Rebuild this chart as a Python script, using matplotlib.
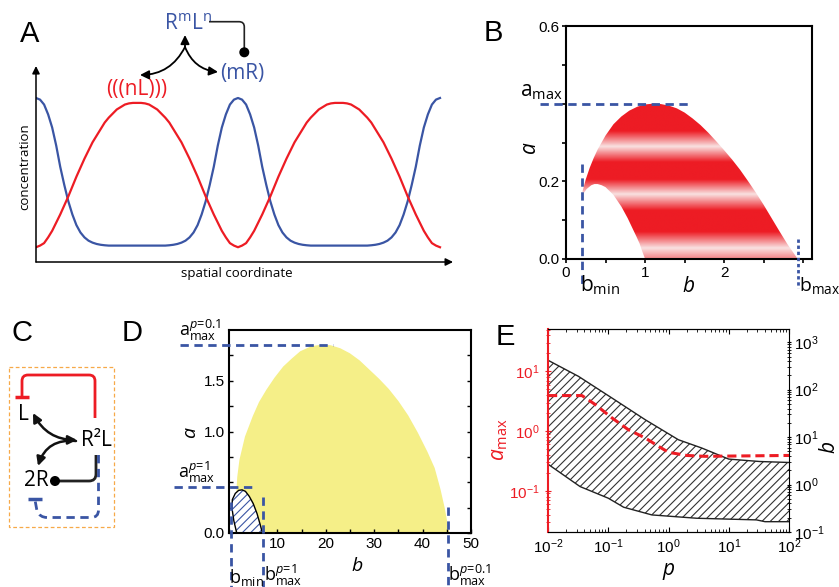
import matplotlib
matplotlib.use("Agg")
import matplotlib.pyplot as plt
import numpy as np
from matplotlib.patches import Polygon, FancyArrowPatch, Circle, Rectangle, PathPatch
from matplotlib.path import Path

plt.rcParams['font.family'] = ['Liberation Sans', 'DejaVu Sans']
plt.rcParams['mathtext.fontset'] = 'custom'
plt.rcParams['mathtext.rm'] = 'Open Sans'
plt.rcParams['mathtext.it'] = 'Open Sans:italic'
plt.rcParams['hatch.linewidth'] = 0.8

W, H = 839, 587
RED = '#ED1C24'
BLUE = '#3A55A4'
YELLOW = '#F5EF88'
PALE = '#F9E1E1'

# --- A: concentration profiles along space (x in % of the domain)
x_space = list(range(0, 101))
conc_R = [1.00, 0.99, 0.96, 0.90, 0.82, 0.71, 0.58, 0.47, 0.37, 0.29, 0.225, 0.18, 0.15, 0.13, 0.118, 0.11, 0.105, 0.102, 0.10, 0.10, 0.10, 0.10, 0.10, 0.10, 0.10, 0.10,
          0.10, 0.10, 0.10, 0.10, 0.10, 0.10, 0.10, 0.102, 0.105, 0.11, 0.118, 0.13, 0.15, 0.18, 0.225, 0.29, 0.37, 0.47, 0.58, 0.71, 0.82, 0.90, 0.96, 0.99,
          1.00, 0.99, 0.96, 0.90, 0.82, 0.71, 0.58, 0.47, 0.37, 0.29, 0.225, 0.18, 0.15, 0.13, 0.118, 0.11, 0.105, 0.102, 0.10, 0.10, 0.10, 0.10, 0.10, 0.10, 0.10, 0.10,
          0.10, 0.10, 0.10, 0.10, 0.10, 0.10, 0.10, 0.102, 0.105, 0.11, 0.118, 0.13, 0.15, 0.18, 0.225, 0.29, 0.37, 0.47, 0.58, 0.71, 0.82, 0.90, 0.96, 0.99,
          1.00]
conc_L = [0.09, 0.10, 0.115, 0.15, 0.19, 0.24, 0.29, 0.345, 0.40, 0.46, 0.52, 0.575, 0.63, 0.68, 0.73, 0.77, 0.81, 0.85, 0.88, 0.905, 0.93, 0.945, 0.96, 0.967, 0.97, 0.97,
          0.97, 0.967, 0.96, 0.945, 0.93, 0.905, 0.88, 0.85, 0.81, 0.77, 0.73, 0.68, 0.63, 0.575, 0.52, 0.46, 0.40, 0.345, 0.29, 0.24, 0.19, 0.15, 0.115, 0.10, 0.09,
          0.10, 0.115, 0.15, 0.19, 0.24, 0.29, 0.345, 0.40, 0.46, 0.52, 0.575, 0.63, 0.68, 0.73, 0.77, 0.81, 0.85, 0.88, 0.905, 0.93, 0.945, 0.96, 0.967, 0.97, 0.97,
          0.97, 0.967, 0.96, 0.945, 0.93, 0.905, 0.88, 0.85, 0.81, 0.77, 0.73, 0.68, 0.63, 0.575, 0.52, 0.46, 0.40, 0.345, 0.29, 0.24, 0.19, 0.15, 0.115, 0.10, 0.09]

# --- B: Turing region (outer and inner boundary)
b_outer = [0.21, 0.25, 0.3, 0.35, 0.4, 0.5, 0.6, 0.7, 0.8, 0.9, 1.0, 1.1, 1.2, 1.3, 1.4, 1.5, 1.6, 1.7, 1.8,
           1.9, 2.0, 2.1, 2.2, 2.3, 2.4, 2.5, 2.6, 2.7, 2.8, 2.93]
a_outer = [0.175, 0.205, 0.235, 0.26, 0.282, 0.318, 0.347, 0.367, 0.382, 0.392, 0.398, 0.40, 0.399, 0.395, 0.388,
           0.377, 0.362, 0.345, 0.325, 0.303, 0.28, 0.256, 0.23, 0.201, 0.171, 0.139, 0.105, 0.071, 0.038, 0.0]
b_inner = [1.0, 0.96, 0.93, 0.89, 0.85, 0.78, 0.7, 0.6, 0.5, 0.45, 0.4, 0.36, 0.32, 0.26, 0.21]
a_inner = [0.0, 0.022, 0.04, 0.058, 0.075, 0.105, 0.135, 0.165, 0.185, 0.19, 0.193, 0.193, 0.19, 0.18, 0.165]
stripe_a = [-0.01, 0.028, 0.07, 0.125, 0.167, 0.205, 0.25, 0.29, 0.33, 0.6]
stripe_w = [0.35, 1.0, 0.0, 0.0, 1.0, 0.0, 0.0, 1.0, 0.0, 0.0]

# --- D: region for p=0.1 (yellow) and p=1 (hatched)
b_p01 = [1.3, 1.4, 1.7, 2.15, 3.3, 4.9, 6.2, 7.7, 9.4, 11.2, 13, 14.7, 17, 19, 21, 23, 25, 27, 29, 31,
         33, 35, 37, 39, 41, 42.5, 43.7, 44.6, 45.2, 45.5]
a_p01 = [0.0, 0.3, 0.55, 0.72, 0.95, 1.15, 1.29, 1.41, 1.53, 1.64, 1.72, 1.79, 1.84, 1.855, 1.85, 1.82, 1.77, 1.7, 1.61, 1.52,
         1.42, 1.3, 1.16, 0.99, 0.8, 0.64, 0.43, 0.24, 0.08, 0.0]
b_p1 = [1.6, 1.0, 0.6, 0.7, 1.3, 2.0, 2.7, 3.4, 4.2, 5.0, 5.8, 6.4, 6.9]
a_p1 = [0.0, 0.12, 0.25, 0.33, 0.39, 0.42, 0.425, 0.41, 0.36, 0.29, 0.19, 0.09, 0.0]

# --- E: b range and a_max against p
p_up = [0.01, 0.032, 0.115, 0.41, 1.46, 3.55, 10, 32.7, 100]
b_up = [417, 191, 66.8, 23.3, 8.8, 5.9, 3.44, 3.06, 2.92]
p_low = [0.01, 0.034, 0.1, 0.18, 0.53, 2.93, 28.8, 40, 100]
b_low = [2.69, 0.908, 0.516, 0.333, 0.229, 0.195, 0.18, 0.165, 0.165]
p_amax = [0.01, 0.0366, 0.061, 0.115, 0.216, 0.41, 0.68, 1.0, 2.0, 4.0, 100]
a_max = [3.92, 3.92, 2.77, 1.66, 1.05, 0.766, 0.555, 0.44, 0.39, 0.377, 0.39]

fig = plt.figure(figsize=(W / 100, H / 100), dpi=100)


def px_axes(x0, y0, x1, y1):
    return fig.add_axes([x0 / W, 1 - y1 / H, (x1 - x0) / W, (y1 - y0) / H])


def guide(ax, xs, ys, dash=(3, 2)):
    ax.plot(xs, ys, color=BLUE, lw=2, dashes=dash, clip_on=False, zorder=5)


# ---------------- panel A
ax_a = px_axes(36, 66, 456, 262)
ax_a.plot(x_space, conc_R, color=BLUE, lw=1.6)
ax_a.plot(x_space, conc_L, color=RED, lw=1.6)
ax_a.set_xlim(0, 103.96)
ax_a.set_ylim(0, 1.195)
ax_a.axis('off')
arrow_kw = dict(arrowstyle='-|>', color='k', lw=1.1, mutation_scale=11, shrinkA=0, shrinkB=0)
ax_a.annotate('', xy=(0.993, 0), xytext=(0, 0), xycoords='axes fraction', arrowprops=arrow_kw)
ax_a.annotate('', xy=(0, 1.0), xytext=(0, 0), xycoords='axes fraction', arrowprops=arrow_kw)

# ---------------- panel B
ax_b = px_axes(566, 26, 812, 259)
ax_b.set_xlim(0, 3.11)
ax_b.set_ylim(0, 0.6)
region = Polygon(list(zip(b_outer + [1.0], a_outer + [0.0])) + list(zip(b_inner, a_inner)),
                 closed=True, facecolor='none', edgecolor='none')
ax_b.add_patch(region)
a_grid = np.linspace(0, 0.6, 400)
w = np.interp(a_grid, stripe_a, stripe_w)[:, None]
red_rgb = np.array(matplotlib.colors.to_rgb(RED))
pale_rgb = np.array(matplotlib.colors.to_rgb(PALE))
img = red_rgb * (1 - w[..., None]) + pale_rgb * w[..., None]
im = ax_b.imshow(img, origin='lower', extent=(0, 3.11, 0, 0.6), aspect='auto', interpolation='bilinear')
im.set_clip_path(region)
ax_b.set_yticks([0, 0.2, 0.6], ['0.0', '0.2', '0.6'])
ax_b.set_yticks([0.1, 0.3, 0.4, 0.5], minor=True)
ax_b.set_xticks([0, 1, 2], ['0', '1', '2'])
ax_b.set_xticks([0.5, 1.5, 2.5, 3.0], minor=True)
ax_b.tick_params(which='both', direction='out', length=3, width=1.2, labelsize=11, pad=2)
for s in ax_b.spines.values():
    s.set_linewidth(1.5)
guide(ax_b, [-0.33, 1.54], [0.40, 0.40], dash=(3, 2))
guide(ax_b, [0.2, 0.2], [0.245, -0.075], dash=(3, 2))
guide(ax_b, [2.93, 2.93], [0.051, -0.075], dash=(1.2, 1))

# ---------------- panel D
ax_d = px_axes(229, 330, 471, 533)
ax_d.set_xlim(0, 50)
ax_d.set_ylim(0, 2.0)
ax_d.fill(b_p01, a_p01, color=YELLOW, lw=0, zorder=1)
ax_d.fill(b_p1, a_p1, facecolor='white', lw=0, zorder=2)
ax_d.fill(b_p1, a_p1, facecolor='none', edgecolor=BLUE, hatch='////', lw=0, zorder=2)
ax_d.fill(b_p1, a_p1, facecolor='none', edgecolor='k', lw=1.0, zorder=3)
ax_d.set_yticks([0, 1.0, 1.5], ['0.0', '1.0', '1.5'])
ax_d.set_yticks([0.25, 0.5, 0.75, 1.25, 1.75], minor=True)
ax_d.set_xticks([0, 10, 20, 30, 40, 50], ['', '10', '20', '30', '40', '50'])
ax_d.set_xticks([5, 15, 25, 35, 45], minor=True)
ax_d.tick_params(which='both', direction='in', length=3, width=1.0, labelsize=11, pad=3, right=True)
for s in ax_d.spines.values():
    s.set_linewidth(1.5)
guide(ax_d, [-10.1, 21.5], [1.855, 1.855])
guide(ax_d, [-11.4, 4.7], [0.45, 0.45])
guide(ax_d, [0.4, 0.4], [0.31, -0.53])
guide(ax_d, [7.1, 7.1], [0.35, -0.53])
guide(ax_d, [45.2, 45.2], [0.26, -0.53])

# ---------------- panel E
ax_e = px_axes(548, 329, 789, 532)
ax_e2 = ax_e.twinx()
ax_e.set_zorder(ax_e2.get_zorder() + 1)
ax_e.patch.set_visible(False)
ax_e2.patch.set_visible(True)
ax_e.set_xscale('log')
ax_e.set_yscale('log')
ax_e2.set_yscale('log')
ax_e.set_xlim(0.01, 100)
ax_e.set_ylim(0.0204, 51)
ax_e2.set_ylim(0.1, 1900)
band = Polygon(list(zip(p_up + p_low[::-1], b_up + b_low[::-1])), closed=True,
               facecolor='none', edgecolor='#333333', hatch='////', lw=0)
ax_e2.add_patch(band)
ax_e2.plot(p_up, b_up, color='#222222', lw=1.0)
ax_e2.plot(p_low, b_low, color='#222222', lw=1.0)
ax_e.plot(p_amax, a_max, color=RED, lw=2.2, dashes=(3, 1.6))
ax_e.spines['left'].set_color(RED)
ax_e.spines['left'].set_linewidth(1.5)
ax_e.spines['right'].set_visible(False)
ax_e2.spines['left'].set_visible(False)
ax_e.tick_params(axis='y', which='both', colors=RED, direction='inout', labelsize=11)
ax_e.tick_params(axis='y', which='major', length=5)
ax_e.tick_params(axis='y', which='minor', length=3)
ax_e.tick_params(axis='x', which='both', direction='in', top=True, labelsize=11, pad=4)
ax_e2.tick_params(axis='y', which='both', direction='inout', labelsize=11, pad=2)
ax_e2.tick_params(axis='y', which='minor', length=3)

# ---------------- overlay with labels and diagrams (pixel coordinates)
ov = fig.add_axes([0, 0, 1, 1])
ov.set_xlim(0, W)
ov.set_ylim(H, 0)
ov.axis('off')
ov.patch.set_visible(False)
ov.set_zorder(20)

for letter, (lx, ly) in {'A': (30, 34), 'B': (493, 33), 'C': (22, 333), 'D': (132, 333), 'E': (505, 337)}.items():
    ov.text(lx, ly, letter, fontsize=21, ha='center', va='center')

sans = dict(family=['Open Sans', 'DejaVu Sans'])
# A texts and diagram
ov.text(25, 167, 'concentration', rotation=90, fontsize=9.5, ha='center', va='center', **sans)
ov.text(237, 273, 'spatial coordinate', fontsize=9.5, ha='center', va='center', **sans)
ov.text(188, 30, r'$\mathrm{R^{m}L^{n}}$', fontsize=15, color=BLUE, ha='center', va='baseline')
ov.text(137, 89, '(((nL)))', fontsize=15, color=RED, ha='center', va='center', **sans)
ov.text(242, 73, '(mR)', fontsize=15, color=BLUE, ha='center', va='center', **sans)
conn = Path([(209, 21.7), (239, 21.7), (244.3, 21.7), (244.3, 27), (244.3, 50)],
            [Path.MOVETO, Path.LINETO, Path.CURVE3, Path.CURVE3, Path.LINETO])
ov.add_patch(PathPatch(conn, facecolor='none', edgecolor='#222222', lw=1.2))
ov.add_patch(Circle((244.3, 52.3), 4.3, color='k'))
ak = dict(color='k', lw=1.3, mutation_scale=13, shrinkA=0, shrinkB=0)
ov.add_patch(FancyArrowPatch((185, 47), (140, 75), arrowstyle='-|>', connectionstyle='arc3,rad=-0.3', **ak))
ov.add_patch(FancyArrowPatch((185, 47), (218, 72), arrowstyle='-|>', connectionstyle='arc3,rad=0.3', **ak))
ov.add_patch(FancyArrowPatch((185, 48), (185, 35), arrowstyle='-|>', **ak))

# C diagram
ov.add_patch(Rectangle((9, 367), 105, 160, facecolor='none', edgecolor='#F7A948', lw=0.9, ls=(0, (3, 2))))
red_path = Path([(22, 397), (22, 381), (22, 375), (28, 375), (89, 375), (95, 375), (95, 381), (95, 418)],
                [Path.MOVETO, Path.LINETO, Path.CURVE3, Path.CURVE3, Path.LINETO, Path.CURVE3, Path.CURVE3, Path.LINETO])
ov.add_patch(PathPatch(red_path, facecolor='none', edgecolor=RED, lw=2))
ov.plot([15, 29.3], [397, 397], color=RED, lw=2.5, solid_capstyle='butt')
blk_path = Path([(55, 481), (89, 481), (96, 481), (96, 474), (96, 455)],
                [Path.MOVETO, Path.LINETO, Path.CURVE3, Path.CURVE3, Path.LINETO])
ov.add_patch(PathPatch(blk_path, facecolor='none', edgecolor='#222222', lw=2))
ov.add_patch(Circle((55, 481), 4.3, color='k'))
blue_path = Path([(98.5, 455), (98.5, 510), (98.5, 517.5), (91, 517.5), (47, 517.5), (40, 517.5), (37, 511), (35, 500)],
                 [Path.MOVETO, Path.LINETO, Path.CURVE3, Path.CURVE3, Path.LINETO, Path.CURVE3, Path.CURVE3, Path.LINETO])
ov.add_patch(PathPatch(blue_path, facecolor='none', edgecolor=BLUE, lw=2, ls=(0, (3, 2))))
ov.plot([28, 42], [499, 499], color=BLUE, lw=2.5, solid_capstyle='butt')
ov.text(23.5, 414, 'L', fontsize=15, ha='center', va='center', **sans)
ov.text(96, 441, 'R²L', fontsize=15, ha='center', va='center', **sans)
ov.text(36, 480, '2R', fontsize=15, ha='center', va='center', **sans)
ck = dict(color='#111111', lw=1.8, mutation_scale=13, shrinkA=0, shrinkB=0)
ov.add_patch(FancyArrowPatch((33, 413), (77, 440), arrowstyle='<|-|>', connectionstyle='arc3,rad=0.3', **ck))
ov.add_patch(FancyArrowPatch((76, 441), (38, 466), arrowstyle='-|>', connectionstyle='arc3,rad=0.4', **ck))

# B labels
ov.text(541, 92, r'$\mathrm{a}_{\mathrm{max}}$', fontsize=15, ha='center', va='center')
ov.text(529, 147, 'a', fontsize=15, style='italic', rotation=90, ha='center', va='center', **sans)
ov.text(600, 285, r'$\mathrm{b}_{\mathrm{min}}$', fontsize=15, ha='center', va='center')
ov.text(688, 286, 'b', fontsize=15, style='italic', ha='center', va='center', **sans)
ov.text(799, 285, r'$\mathrm{b}_{\mathrm{max}}$', fontsize=14, ha='left', va='center')

# D labels
ov.text(200, 330, r'$\mathrm{a}^{p\!=\!0.1}_{\mathrm{max}}$', fontsize=13, ha='center', va='center')
ov.text(197, 472, r'$\mathrm{a}^{p\!=\!1}_{\mathrm{max}}$', fontsize=13, ha='center', va='center')
ov.text(190, 432, 'a', fontsize=14, style='italic', rotation=90, ha='center', va='center', **sans)
ov.text(357, 566, 'b', fontsize=14, style='italic', ha='center', va='center', **sans)
ov.text(246, 577, r'$\mathrm{b}_{\mathrm{min}}$', fontsize=13, ha='center', va='center')
ov.text(283, 575, r'$\mathrm{b}^{p\!=\!1}_{\mathrm{max}}$', fontsize=13, ha='center', va='center')
ov.text(470, 575, r'$\mathrm{b}^{p\!=\!0.1}_{\mathrm{max}}$', fontsize=13, ha='center', va='center')

# E labels
ov.text(500, 440, r'$a_{\mathrm{max}}$', fontsize=15, color=RED, rotation=90, ha='center', va='center')
ov.text(829, 447, 'b', fontsize=15, style='italic', rotation=90, ha='center', va='center', **sans)
ov.text(668, 569, 'p', fontsize=15, style='italic', ha='center', va='center', **sans)

fig.savefig('out.png', dpi=100)
